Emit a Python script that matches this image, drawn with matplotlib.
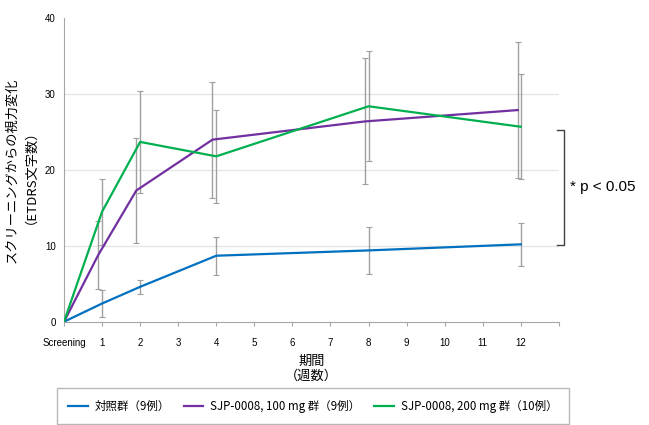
import matplotlib
matplotlib.use("Agg")
from matplotlib import pyplot as plt

plt.rcParams['font.family'] = ['Noto Sans CJK JP', 'DejaVu Sans']

# 週 (Screening = 0)
weeks = [0, 1, 2, 4, 8, 12]
# 100 mg 群は少し左にずらして描かれている
weeks_100 = [0, 0.9, 1.9, 3.9, 7.9, 11.92]

control = [0, 2.4, 4.6, 8.7, 9.4, 10.2]
control_sd = [0, 1.75, 0.95, 2.5, 3.05, 2.8]
mg100 = [0, 8.8, 17.3, 24.0, 26.4, 27.9]
mg100_sd = [0, 4.5, 6.95, 7.65, 8.3, 8.95]
mg200 = [0, 14.5, 23.7, 21.8, 28.4, 25.7]
mg200_sd = [0, 4.35, 6.7, 6.15, 7.25, 6.9]

tick_labels = ["Screening"] + [str(i) for i in range(1, 13)] + [""]
series_labels = ["対照群（9例）", "SJP-0008, 100 mg 群（9例）", "SJP-0008, 200 mg 群（10例）"]
colors = ["#0070C0", "#7030A0", "#00B050"]

fig = plt.figure(figsize=(6.49, 4.25), dpi=100)
ax = fig.add_axes([0.0986, 0.243, 0.7626, 0.714])

err_kw = dict(fmt='none', ecolor='#a0a0a0', elinewidth=1.0, capsize=2, capthick=0.8, zorder=2)
ax.errorbar(weeks[1:], control[1:], yerr=control_sd[1:], **err_kw)
ax.errorbar(weeks_100[1:], mg100[1:], yerr=mg100_sd[1:], **err_kw)
ax.errorbar(weeks[1:], mg200[1:], yerr=mg200_sd[1:], **err_kw)

ax.plot(weeks, control, color=colors[0], lw=1.6, label=series_labels[0], zorder=3)
ax.plot(weeks_100, mg100, color=colors[1], lw=1.6, label=series_labels[1], zorder=3)
ax.plot(weeks, mg200, color=colors[2], lw=1.6, label=series_labels[2], zorder=3)

ax.set_xlim(0, 13)
ax.set_ylim(0, 40)
ax.set_xticks(range(0, 14))
ax.set_xticklabels(tick_labels, fontsize=7, family=['Liberation Sans', 'DejaVu Sans'])
ax.set_yticks([0, 10, 20, 30, 40])
ax.set_yticklabels(["0", "10", "20", "30", "40"], fontsize=7, family=['Liberation Sans', 'DejaVu Sans'])
ax.tick_params(axis='x', direction='out', length=3, color='#a6a6a6', pad=9)
ax.tick_params(axis='y', length=0, pad=6)

ax.yaxis.grid(True, color='#e6e6e6', lw=1.0)
gl = ax.yaxis.get_gridlines()
gl[0].set_visible(False)
gl[-1].set_visible(False)
ax.set_axisbelow(True)

for s in ['top', 'right']:
    ax.spines[s].set_visible(False)
ax.spines['left'].set_color('#a6a6a6')
ax.spines['bottom'].set_color('#a6a6a6')

ax.set_xlabel("期間\n（週数）", fontsize=9.5, labelpad=5, linespacing=1.1)
ax.set_ylabel("スクリーニングからの視力変化\n（ETDRS文字数）", fontsize=9.5, labelpad=10, linespacing=1.0)

# 有意差のブラケット
ax.plot([12.94, 13.14, 13.14, 12.94], [25.3, 25.3, 10.1, 10.1], color='#404040', lw=1.0, clip_on=False)
ax.text(13.3, 17.7, "* p < 0.05", fontsize=11, va='center', ha='left',
        family=['Liberation Sans', 'DejaVu Sans'])

leg = fig.legend(loc='lower center', bbox_to_anchor=(0.482, 0.002),
                 ncol=3, fontsize=8.3, frameon=True, fancybox=False, handlelength=1.7,
                 handletextpad=0.6, borderaxespad=0, columnspacing=1.2, borderpad=1.0)
leg.get_frame().set_edgecolor('#a6a6a6')
leg.get_frame().set_linewidth(1.0)

plt.savefig("out.png", dpi=100)
